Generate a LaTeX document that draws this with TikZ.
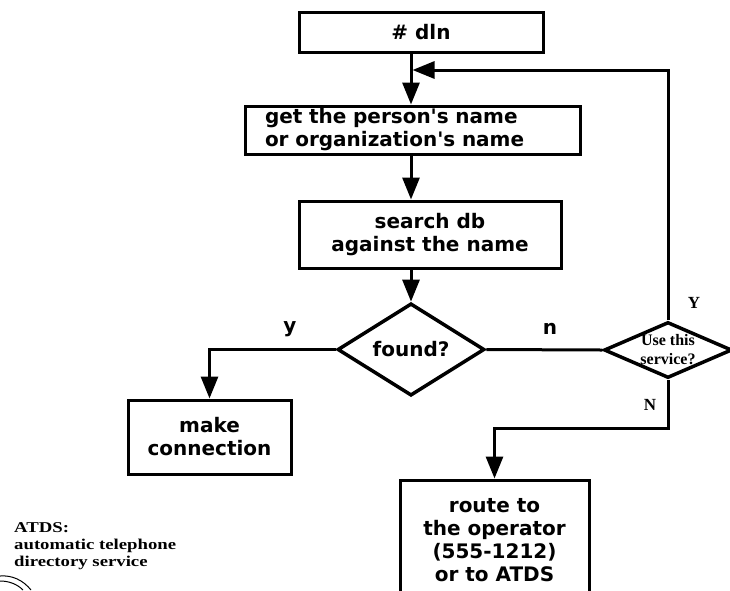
\documentclass[tikz,border=0pt]{standalone}
\usepackage{fontspec}
\setmainfont{DejaVu Sans}
\newfontfamily\boxfont{DejaVu Sans}
\newfontfamily\notefont{Liberation Serif}
\usetikzlibrary{arrows.meta, shapes.geometric}

\tikzset{
  flow/.style={draw=black, line width=3pt},
  proc/.style={flow, rectangle, fill=white, inner sep=0pt, align=center,
    font=\boxfont\bfseries\fontsize{20}{23}\selectfont},
  decide/.style={flow, diamond, fill=white, inner sep=0pt, line width=3.5pt,
    font=\boxfont\bfseries\fontsize{20}{23}\selectfont},
  conn/.style={line width=3pt},
  arr/.style={conn, -{Triangle[length=22pt, width=17pt]}},
  branchtag/.style={font=\boxfont\bfseries\fontsize{20}{23}\selectfont, inner sep=0pt},
  answertag/.style={font=\notefont\bfseries\fontsize{17}{19}\selectfont, inner sep=0pt},
  innerq/.style={font=\notefont\bfseries\fontsize{16}{19}\selectfont, inner sep=0pt, align=center},
  legend/.style={font=\notefont\bfseries\fontsize{15}{17}\selectfont, inner sep=0pt, align=left}
}

\begin{document}
\begin{tikzpicture}[x=1pt, y=-1pt]
  \useasboundingbox (0,0) rectangle (730,590);
  \clip (0,0) rectangle (730,590);
  \fill[white] (0,0) rectangle (730,590);

  % process boxes and decisions
  \node[proc, minimum width=244pt, minimum height=40pt] (dial) at (421,32) {\# dln};
  \node[proc, minimum width=335pt, minimum height=48pt, text width=295pt,
        align=left, inner xsep=20pt] (getname) at (412.5,130)
        {get the person's name\\or organization's name};
  \node[proc, minimum width=262pt, minimum height=67pt] (search) at (430,234.5)
        {search db\\against the name};
  \node[decide, minimum width=147pt, minimum height=55pt] (found) at (411,349.5) {found?};
  \node[decide, minimum width=128pt, minimum height=56pt] (use) at (668,350) {};
  \node[innerq] (usetext) at (use.center) {Use this\\service?};
  \node[proc, minimum width=163pt, minimum height=74pt] (make) at (209.5,437)
        {make\\connection};
  \node[proc, minimum width=189pt, minimum height=120pt] (route) at (494.5,540)
        {route to\\the operator\\(555-1212)\\or to ATDS};

  % main spine
  \coordinate (loop) at (412.5,70);
  \draw[conn] (dial.south -| found.north) -- (loop -| found.north);
  \draw[arr] (loop -| found.north) -- (getname.north -| found.north);
  \draw[arr] (getname.south -| found.north) -- (search.north -| found.north);
  \draw[arr] (search.south -| found.north) -- (found.north);

  % branches
  \draw[arr] (found.west) -| (make.north);
  \draw[conn] (found.east) -- (use.west);
  \draw[arr] (use.north) |- (loop);
  \coordinate (nturn) at (route.north |- 0,428);
  \draw[arr] (use.south) |- (nturn) -- (route.north);

  % branch labels
  \node[branchtag] (ylab) at (290,329) {y};
  \node[branchtag] (nlab) at (550,329) {n};
  \node[answertag] (Ylab) at (694,303) {Y};
  \node[answertag] (Nlab) at (650,405) {N};

  % legend
  \node[legend, anchor=north west] (note) at (14,522)
        {\scalebox{1.25}[1]{ATDS:}\\
         \scalebox{1.25}[1]{automatic telephone}\\
         \scalebox{1.25}[1]{directory service}};

  % stray marks at the lower left corner
  \draw[line width=1pt] (0,576) .. controls (12,575) and (23,580) .. (31,590);
  \draw[line width=1pt] (0,581) .. controls (9,581) and (17,584) .. (23,590);
\end{tikzpicture}
\end{document}
